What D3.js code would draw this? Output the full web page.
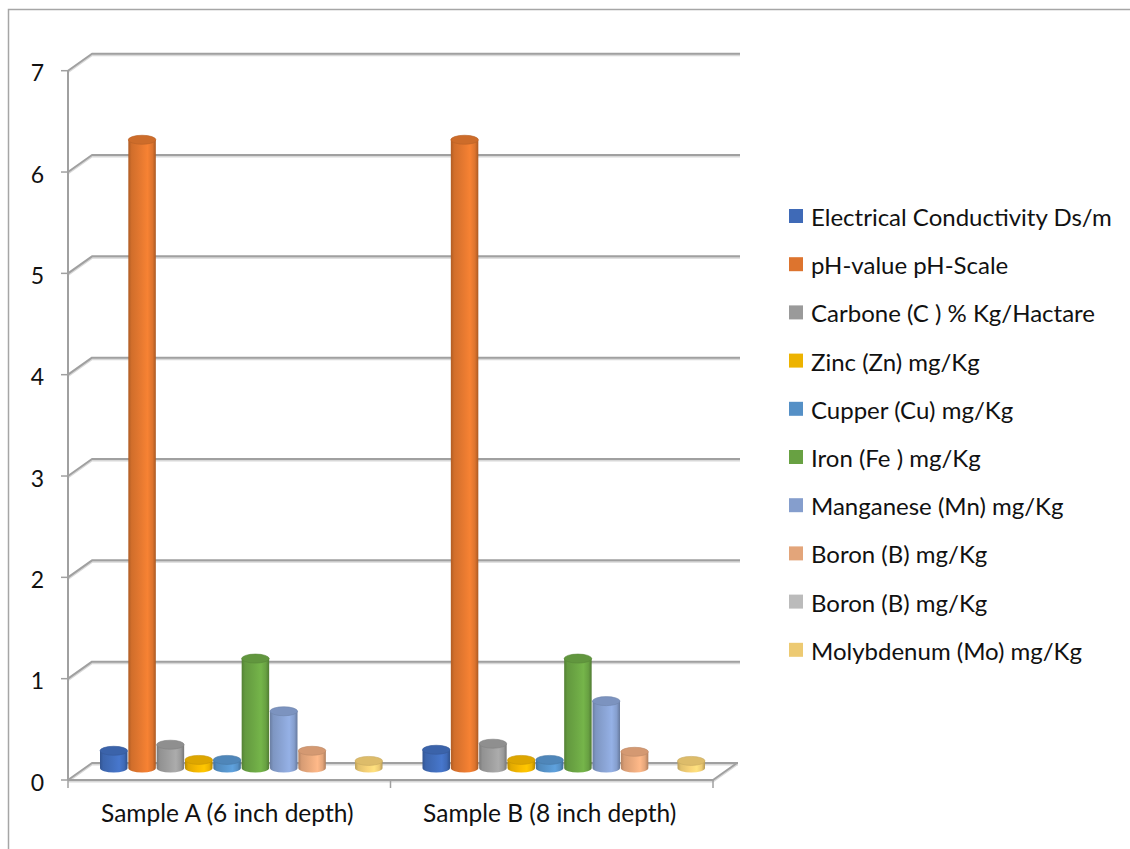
<!DOCTYPE html>
<html>
<head>
<meta charset="utf-8">
<script src="https://cdn.jsdelivr.net/npm/d3@7/dist/d3.min.js"></script>
<style>
  html, body { margin: 0; padding: 0; background: #fff; }
  svg { display: block; }
  text { font-family: Lato, "Noto Sans", sans-serif; fill: #111; }
</style>
</head>
<body>
<svg id="chart" width="1130" height="849"></svg>
<script>
// Soil test results for two sampling depths
const categories = ["Sample A (6 inch depth)", "Sample B (8 inch depth)"];
const seriesNames = [
  "Electrical Conductivity Ds/m",
  "pH-value pH-Scale",
  "Carbone (C ) % Kg/Hactare",
  "Zinc (Zn) mg/Kg",
  "Cupper (Cu) mg/Kg",
  "Iron (Fe ) mg/Kg",
  "Manganese (Mn) mg/Kg",
  "Boron (B) mg/Kg",
  "Boron (B) mg/Kg",
  "Molybdenum (Mo) mg/Kg"
];
const sampleA = [0.17, 6.2, 0.23, 0.08, 0.08, 1.08, 0.56, 0.17, 0, 0.07];
const sampleB = [0.18, 6.2, 0.24, 0.08, 0.08, 1.08, 0.66, 0.16, 0, 0.07];
const seriesColors = ["#4472C4", "#ED7D31", "#A5A5A5", "#FFC000", "#5B9BD5",
                      "#70AD47", "#8FAADC", "#F4B183", "#C9C9C9", "#FFD97A"];
const yTicks = [0, 1, 2, 3, 4, 5, 6, 7];

const values = [sampleA, sampleB];

const svg = d3.select("#chart");

// outer chart border
svg.append("rect").attr("x", 8.5).attr("y", 9.5).attr("width", 1200).attr("height", 1000)
  .attr("fill", "none").attr("stroke", "#a6a6a6").attr("stroke-width", 1.5);

// 3D geometry: front plane, back wall offset
const depth = { dx: 24, dy: -17 };
const barDepth = { dx: 12, dy: -12 };

const y = d3.scaleLinear().domain([0, 7]).range([780, 70.7]);
const x0 = d3.scaleBand().domain(categories).range([68, 713]).padding(0);
const x1 = d3.scaleBand().domain(d3.range(seriesNames.length))
  .range([20, x0.bandwidth() - 20]).paddingInner(0.03);

const grid = svg.append("g");
const gridColor = "#a0a0a0";
const shadowColor = "#d8d8d8";

function gridLine(pts, color, w) {
  grid.append("path").attr("d", d3.line()(pts))
    .attr("fill", "none").attr("stroke", color).attr("stroke-width", w)
    .attr("stroke-linejoin", "round");
}

const backRight = 738;
yTicks.forEach(t => {
  const yf = y(t);
  const pts = t === 0
    ? [[68, yf], [68 + depth.dx, yf + depth.dy], [backRight, yf + depth.dy]]
    : [[68, yf], [68 + depth.dx, yf + depth.dy], [backRight + 2, yf + depth.dy]];
  gridLine(pts.map(p => [p[0], p[1] + 1.5]), shadowColor, 2);
  gridLine(pts, gridColor, 2);
});

// floor front edge and right side
const floorPts = [[68, y(0)], [713, y(0)], [713 + depth.dx, y(0) + depth.dy]];
gridLine(floorPts.map(p => [p[0], p[1] + 1.5]), shadowColor, 2);
gridLine(floorPts, gridColor, 2);

// value axis line
gridLine([[68, y(7)], [68, y(0)]], gridColor, 2);

// value axis ticks and labels
const yAxisG = svg.append("g");
yTicks.forEach(t => {
  yAxisG.append("line").attr("x1", 61).attr("x2", 68).attr("y1", y(t)).attr("y2", y(t))
    .attr("stroke", gridColor).attr("stroke-width", 1.5);
  yAxisG.append("text").attr("x", 44).attr("y", y(t) + 1.5)
    .attr("text-anchor", "end").attr("dominant-baseline", "central")
    .attr("font-size", 23).text(t);
});

// category axis ticks and labels
const xTicks = [68, 68 + x0.bandwidth(), 713];
xTicks.forEach(xx => {
  svg.append("line").attr("x1", xx).attr("x2", xx).attr("y1", y(0)).attr("y2", y(0) + 8)
    .attr("stroke", gridColor).attr("stroke-width", 1.5);
});
categories.forEach(c => {
  svg.append("text").attr("x", x0(c) + x0.bandwidth() / 2 - 2).attr("y", 822)
    .attr("text-anchor", "middle").attr("font-size", 24.5).text(c);
});

// cylinder shading gradients
const defs = svg.append("defs");
seriesColors.forEach((col, i) => {
  const base = d3.color(col);
  const g = defs.append("linearGradient").attr("id", "cyl" + i)
    .attr("x1", "0%").attr("x2", "100%").attr("y1", "0%").attr("y2", "0%");
  const stops = [
    [0, base.darker(0.85)],
    [0.12, base.darker(0.35)],
    [0.45, base.darker(0.08)],
    [0.7, base.brighter(0.12)],
    [0.88, base.darker(0.2)],
    [1, base.darker(0.95)]
  ];
  stops.forEach(([o, c]) => g.append("stop").attr("offset", o).attr("stop-color", c.formatHex()));
});

// cylinders
const bars = svg.append("g");
const ry = 4.5;
categories.forEach((cat, ci) => {
  values[ci].forEach((v, si) => {
    if (v <= 0) return;
    const bx = x0(cat) + barDepth.dx + x1(si);
    const w = x1.bandwidth();
    const rx = w / 2;
    const yBase = y(0) + barDepth.dy;
    const yTop = y(v) + barDepth.dy;
    const body = `M${bx},${yTop} L${bx},${yBase} A${rx},${ry} 0 0 0 ${bx + w},${yBase} L${bx + w},${yTop} Z`;
    bars.append("path").attr("d", body).attr("fill", `url(#cyl${si})`);
    bars.append("ellipse").attr("cx", bx + rx).attr("cy", yTop).attr("rx", rx).attr("ry", ry)
      .attr("fill", d3.color(seriesColors[si]).darker(0.4).formatHex())
      .attr("stroke", d3.color(seriesColors[si]).darker(0.7).formatHex()).attr("stroke-width", 0.6);
  });
});

// legend
const legend = svg.append("g");
seriesNames.forEach((name, i) => {
  const cy = 216 + i * 48.2;
  legend.append("rect").attr("x", 789).attr("y", cy - 7).attr("width", 14).attr("height", 14)
    .attr("fill", d3.color(seriesColors[i]).darker(0.2).formatHex());
  legend.append("text").attr("x", 811).attr("y", cy + 0.5).attr("dominant-baseline", "central")
    .attr("font-size", 24).text(name);
});
</script>
</body>
</html>
